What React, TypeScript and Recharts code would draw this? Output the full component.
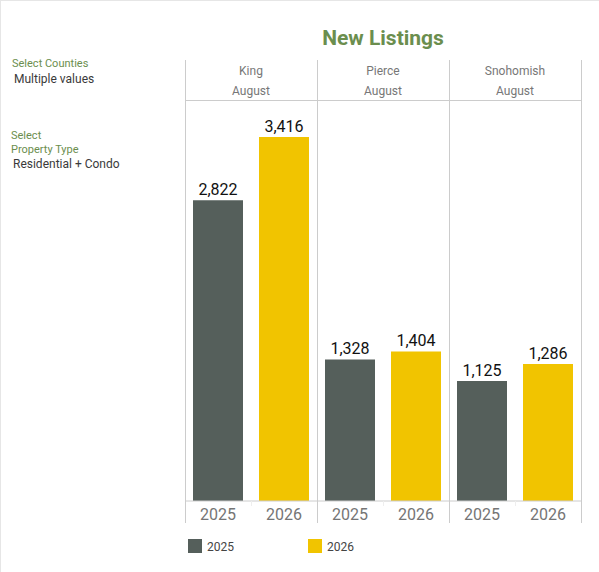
import { BarChart, Bar, XAxis, YAxis, LabelList } from "recharts";

const counties = ["King", "Pierce", "Snohomish"];
const years = ["2025", "2026"];
const values2025 = [2822, 1328, 1125];
const values2026 = [3416, 1404, 1286];
const yMax = 3763;

const DARK = "#555f5b";
const YELLOW = "#f1c400";
const GREEN = "#6b8e4e";
const GRID = "#cccccc";

const rows = counties.flatMap((county, i) => [
  { key: county + years[0], year: years[0], a: values2025[i], b: null },
  { key: county + years[1], year: years[1], a: null, b: values2026[i] },
]);

const fmt = (v: any) => (v == null ? "" : Number(v).toLocaleString("en-US"));

function Txt({ x, y, size, color, center, children }: any) {
  return (
    <div
      style={{
        position: "absolute",
        left: center ? x - 100 : x,
        width: center ? 200 : undefined,
        top: y,
        fontSize: size,
        lineHeight: "14px",
        color,
        textAlign: center ? "center" : "left",
        whiteSpace: "nowrap",
      }}
    >
      {children}
    </div>
  );
}

function Line({ x, y, w, h, color = GRID }: any) {
  return <div style={{ position: "absolute", left: x, top: y, width: w, height: h, background: color }} />;
}

export default function App() {
  return (
    <div
      style={{
        position: "absolute",
        left: 0,
        top: 0,
        width: 599,
        height: 572,
        background: "#fff",
        fontFamily: "Roboto, sans-serif",
        overflow: "hidden",
      }}
    >
      <Line x={0} y={0} w={599} h={1} color="#e6e6e6" />
      <Line x={0} y={0} w={1} h={572} color="#e6e6e6" />

      <BarChart
        width={599}
        height={572}
        data={rows}
        margin={{ top: 100, right: 18, bottom: 50, left: 185 }}
        barSize={50}
        style={{ position: "absolute", left: 0, top: 0 }}
      >
        <XAxis
          dataKey="key"
          interval={0}
          height={21}
          tickFormatter={(_: any, i: number) => rows[i].year}
          tick={{ fontSize: 16, fill: "#757575", fontFamily: "Roboto, sans-serif" }}
          tickLine={false}
          axisLine={{ stroke: GRID }}
        />
        <YAxis hide domain={[0, yMax]} />
        <Bar dataKey="a" stackId="s" fill={DARK} isAnimationActive={false}>
          <LabelList dataKey="a" position="top" offset={5} formatter={fmt} style={{ fontSize: 16, fill: "#111" }} />
        </Bar>
        <Bar dataKey="b" stackId="s" fill={YELLOW} isAnimationActive={false}>
          <LabelList dataKey="b" position="top" offset={5} formatter={fmt} style={{ fontSize: 16, fill: "#111" }} />
        </Bar>
      </BarChart>

      {[185, 317, 449, 581].map((x) => (
        <Line key={x} x={x} y={60} w={1} h={463} />
      ))}
      <Line x={185} y={100} w={397} h={1} />
      {[251, 383, 515].map((x) => (
        <Line key={x} x={x} y={501} w={1} h={5} color="#eeeeee" />
      ))}

      {counties.map((c, i) => (
        <div key={c}>
          <Txt x={251 + i * 132} y={64} size={12} color="#777" center>
            {c}
          </Txt>
          <Txt x={251 + i * 132} y={84} size={12} color="#777" center>
            August
          </Txt>
        </div>
      ))}

      <div style={{ position: "absolute", left: 184, width: 398, top: 25, textAlign: "center", fontSize: 21, lineHeight: "26px", fontWeight: 700, color: GREEN }}>
        New Listings
      </div>

      <Txt x={12} y={57} size={11} color={GREEN}>Select Counties</Txt>
      <Txt x={14} y={72} size={12} color="#3a3a3a">Multiple values</Txt>
      <Txt x={11} y={129} size={11} color={GREEN}>Select</Txt>
      <Txt x={11} y={143} size={11} color={GREEN}>Property Type</Txt>
      <Txt x={13} y={157} size={12} color="#3a3a3a">Residential + Condo</Txt>

      {years.map((y, i) => (
        <div key={y}>
          <Line x={188 + i * 120} y={539} w={14} h={14} color={i === 0 ? DARK : YELLOW} />
          <Txt x={207 + i * 120} y={540} size={12} color="#444">
            {y}
          </Txt>
        </div>
      ))}
    </div>
  );
}
